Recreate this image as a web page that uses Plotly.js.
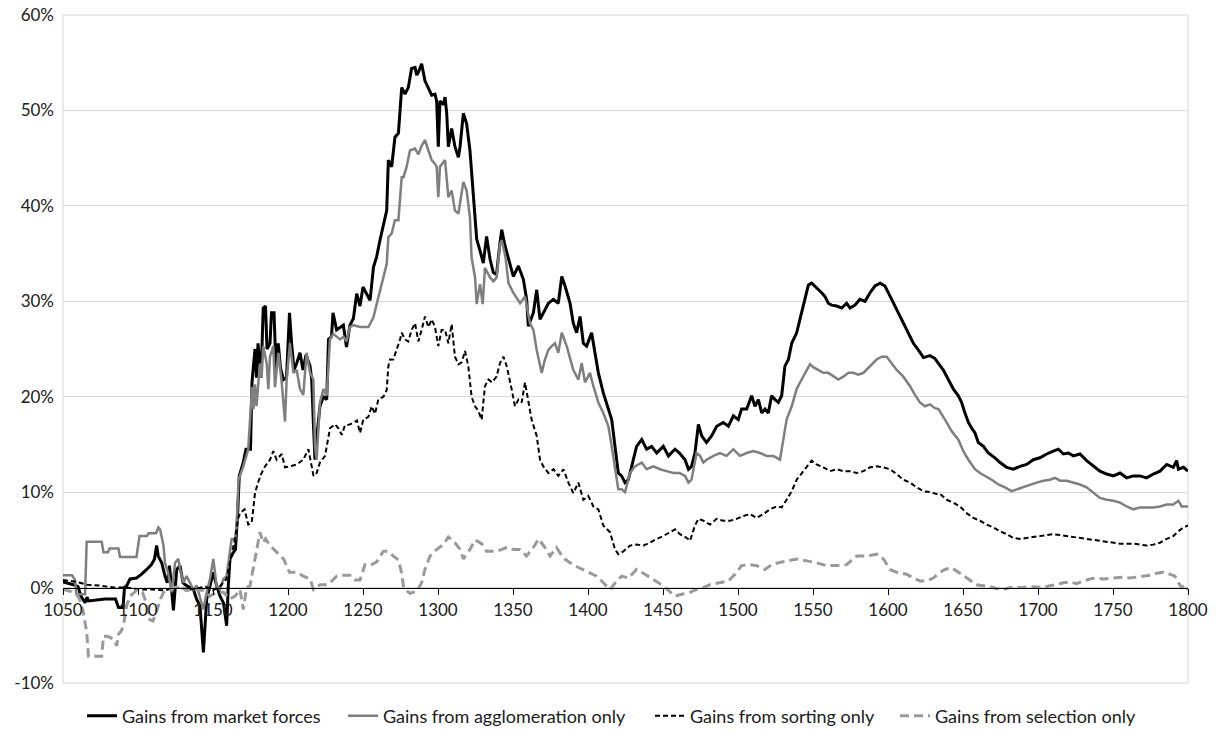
<!DOCTYPE html>
<html>
<head>
<meta charset="utf-8">
<script src="https://cdn.plot.ly/plotly-3.0.1.min.js"></script>
<style>html,body{margin:0;padding:0;background:#fff;}#chart{width:1218px;height:731px;}</style>
</head>
<body>
<div id="chart"></div>
<script>
// Series names
const seriesNames = ["Gains from market forces", "Gains from agglomeration only", "Gains from sorting only", "Gains from selection only"];

// [year, percent] readings for each series
const marketData = [[1050,0.6],[1053,0.5],[1057,0.3],[1060,0.1],[1062,-0.9],[1064.7,-1.6],[1066,-1.0],[1067,-1.4],[1078,-1.2],[1085,-1.2],[1087,-2.1],[1090,-2.1],[1091,0],[1092.5,0.2],[1094.7,0.9],[1099,1.0],[1102.4,1.4],[1105.8,1.9],[1109,2.4],[1111,3.0],[1112.4,4.4],[1113.5,3.3],[1115.8,2.6],[1118,1.2],[1119.5,0.5],[1121,2.3],[1123.6,-2.4],[1125.8,1.9],[1128,2.3],[1130,0.5],[1132.4,0.2],[1137,-0.2],[1139,-1.2],[1141.3,-1.9],[1143.6,-6.8],[1145.8,-1.2],[1148,0.2],[1150.2,1.6],[1152.4,0.2],[1154.7,-0.9],[1157,-1.6],[1159.1,-4.0],[1160.2,0.2],[1161.3,3.0],[1163.6,3.7],[1165,4.0],[1166.5,8.0],[1167.5,11.7],[1170,13.0],[1172,14.5],[1175,14.5],[1176,21.5],[1178,25.0],[1179,22.0],[1180,25.6],[1182,22.0],[1183.5,29.3],[1185,29.5],[1186,25.0],[1188,25.6],[1189,28.8],[1190.7,28.8],[1192,22.8],[1193.5,25.6],[1195,23.0],[1197,21.8],[1199,22.0],[1201,28.8],[1202.4,25.6],[1204,22.8],[1205.8,23.5],[1208,24.6],[1210,22.8],[1212,24.4],[1214.7,23.2],[1215.8,21.8],[1217,16.9],[1218,13.4],[1219,15.5],[1221.3,19.0],[1223.6,20.0],[1225.8,19.7],[1227,26.0],[1229,26.3],[1230,28.8],[1232.4,27.0],[1236.9,27.5],[1239,25.2],[1241.3,27.5],[1243.6,28.2],[1245.8,30.8],[1248,29.5],[1250,31.5],[1253.6,30.5],[1254.7,30.1],[1257,33.6],[1259,34.6],[1261.3,36.4],[1263.6,38.1],[1265.8,39.5],[1266.9,44.8],[1269.1,44.1],[1271.3,47.2],[1273.6,47.6],[1275.8,52.4],[1278,51.7],[1280.2,52.4],[1282.4,54.4],[1284.7,54.5],[1285.8,53.7],[1286.9,54.0],[1289.1,54.9],[1291.3,53.1],[1293.6,52.4],[1295.8,51.6],[1298,51.7],[1299.1,51.0],[1300.2,46.2],[1301.3,51.0],[1303.6,50.6],[1304.7,51.4],[1305.8,49.7],[1306.9,46.2],[1309.1,48.1],[1311.3,46.2],[1313.6,45.1],[1314.7,46.2],[1316.9,49.7],[1319.1,48.6],[1321.3,45.8],[1323.6,40.9],[1325.8,36.5],[1328,35.3],[1330.2,34.0],[1332.4,36.8],[1334.7,34.4],[1336.9,33.0],[1339,32.8],[1341.3,36.1],[1342.5,37.5],[1344.7,35.8],[1346.9,34.4],[1350.2,32.6],[1353.6,33.7],[1356.9,32.3],[1359.1,30.2],[1360.2,27.4],[1363.6,28.8],[1365.8,31.2],[1368,28.1],[1371.3,29.1],[1373.6,29.8],[1376.9,30.2],[1380.2,29.8],[1382.5,32.6],[1384.7,31.6],[1388,29.8],[1390.2,27.7],[1392.4,26.7],[1394.7,28.4],[1396.9,25.6],[1399.1,25.3],[1402.4,26.7],[1404.7,24.6],[1406.9,22.5],[1410.2,20.4],[1413.6,18.7],[1415.8,17.6],[1418,14.8],[1420.2,12.0],[1422.4,11.7],[1424.7,11.0],[1426.9,11.3],[1430.2,13.4],[1432.4,14.8],[1435.8,15.5],[1439.1,14.5],[1442.4,14.8],[1445.8,14.1],[1450.2,14.8],[1453.6,13.8],[1458,14.5],[1461,14.1],[1464.7,13.4],[1467,12.4],[1469,12.7],[1471.3,14.1],[1473.6,17.1],[1475.8,15.9],[1479,15.2],[1482.4,15.9],[1485.8,16.9],[1490.2,17.3],[1493.6,16.9],[1496.9,18.0],[1500.2,17.6],[1502.4,18.7],[1505.8,18.7],[1509.1,20.1],[1511.3,19.0],[1513.6,19.7],[1515.8,18.3],[1518,18.7],[1520.2,18.3],[1522.4,20.1],[1524.7,19.7],[1526.9,19.4],[1529.1,20.1],[1531.3,23.2],[1533.6,23.9],[1535.8,25.6],[1539.1,26.7],[1541.3,28.1],[1543.6,29.5],[1545.8,30.9],[1546.9,31.7],[1549.1,31.9],[1551.3,31.6],[1553.6,31.2],[1555.8,30.9],[1558,30.5],[1560.2,29.8],[1562.4,29.6],[1565.8,29.5],[1569.1,29.3],[1572.4,29.8],[1574.7,29.3],[1578,29.6],[1581.3,30.2],[1584.7,30.0],[1588,30.9],[1591.3,31.6],[1594.7,31.9],[1598,31.6],[1600.2,30.9],[1603.6,29.8],[1607,28.8],[1610.2,27.7],[1613.6,26.7],[1616.9,25.6],[1620.2,24.9],[1623.6,24.1],[1628,24.3],[1631.3,24.0],[1633.6,23.5],[1636.9,22.8],[1640.2,21.8],[1643.6,20.8],[1646.9,20.1],[1649.1,19.4],[1651.3,18.3],[1653.6,17.3],[1655.8,16.7],[1658,16.2],[1660.2,15.2],[1663.6,14.8],[1666.9,14.1],[1671.3,13.6],[1674.7,13.1],[1679.1,12.6],[1683.6,12.4],[1688,12.7],[1692.4,12.9],[1696.9,13.4],[1701.3,13.6],[1705.8,14.0],[1710.2,14.3],[1713.6,14.5],[1716.9,14.0],[1720.2,14.1],[1723.6,13.8],[1728,14.0],[1732.4,13.3],[1736.9,12.7],[1741.3,12.2],[1745.8,11.9],[1750.2,11.7],[1754.7,12.0],[1759.1,11.5],[1763.6,11.7],[1768,11.7],[1772.4,11.5],[1776.9,11.9],[1781.3,12.2],[1785.8,12.9],[1790.2,12.6],[1792.4,13.3],[1793.6,12.4],[1797,12.6],[1800,12.2]];

const agglomerationData = [[1050,1.3],[1056,1.3],[1058,0.8],[1059,-0.7],[1064.7,-0.7],[1065.8,4.8],[1075.8,4.8],[1077,3.7],[1080,3.7],[1081,4.1],[1087,4.1],[1088,3.2],[1099,3.2],[1100,4.2],[1101,5.4],[1106,5.4],[1107,5.7],[1112,5.7],[1113.6,6.3],[1114.7,6.1],[1117,4.4],[1118,2.6],[1120,1.6],[1122.4,-0.5],[1124.7,2.6],[1126.9,3.0],[1128,2.0],[1130.2,0.5],[1132.4,1.2],[1134.7,0.5],[1136.9,-0.2],[1139.1,0.2],[1141.3,-0.9],[1143.6,-2.3],[1145.8,-0.5],[1148,0.9],[1150.2,3.0],[1152.4,0.2],[1154.7,-0.2],[1157,0.9],[1159.1,1.2],[1161.3,3.7],[1162.4,5.1],[1164.7,5.1],[1165.8,6.5],[1167,11.3],[1170.2,12.7],[1173.5,14.5],[1176,21.0],[1177,18.7],[1178,21.3],[1179,19.0],[1181.3,23.5],[1182.4,22.0],[1183.5,25.3],[1185.8,23.5],[1186.9,20.8],[1188,24.2],[1190.2,25.3],[1191.3,21.0],[1193.6,24.6],[1195.8,21.5],[1198,17.4],[1199.1,21.8],[1201.3,25.6],[1203.6,22.5],[1205.8,22.8],[1208,20.8],[1210.2,20.2],[1212.4,24.6],[1214.7,22.5],[1216.9,21.8],[1218,14.8],[1219.1,13.4],[1221.3,19.4],[1223.6,20.8],[1225.8,20.1],[1228,26.0],[1230.2,26.6],[1232.4,26.3],[1234.7,26.0],[1237,26.3],[1239,25.8],[1241.3,27.3],[1243.6,27.5],[1248,27.3],[1250,27.3],[1253.6,27.3],[1256.9,28.3],[1259.1,29.7],[1263.6,32.5],[1265.8,33.9],[1266.9,36.7],[1269.1,37.1],[1271.3,38.5],[1273.6,38.5],[1275.8,43.0],[1277,43.0],[1279.1,44.1],[1281.3,45.8],[1284.7,46.0],[1286.9,45.4],[1289.1,46.3],[1291.3,46.9],[1293.6,45.8],[1295.8,44.8],[1298,44.4],[1299.1,44.1],[1300.2,40.9],[1301.3,44.1],[1304.7,44.8],[1306.9,40.9],[1309.1,41.6],[1311.3,39.5],[1313.6,39.2],[1315.8,41.3],[1316.9,42.5],[1319.1,41.6],[1321.3,38.8],[1322.4,34.6],[1324.7,32.5],[1325.8,29.7],[1328,31.8],[1329.8,29.7],[1331.3,33.5],[1334.7,32.5],[1336.9,32.1],[1339.1,32.5],[1341.3,36.0],[1342.5,36.4],[1345,34.6],[1347,31.9],[1350.2,30.9],[1354.7,29.8],[1358,30.5],[1361.3,27.7],[1363.6,27.0],[1365.8,24.9],[1369.1,22.5],[1371.3,23.9],[1373.6,24.9],[1375.8,25.3],[1378,25.6],[1380.2,24.6],[1382.5,26.7],[1385.8,25.3],[1388,23.9],[1390.2,22.8],[1393.6,21.8],[1395.8,23.5],[1398,21.5],[1401.3,22.5],[1403.6,21.1],[1406.9,19.4],[1410.2,18.3],[1413.6,16.9],[1415.8,14.8],[1418,12.7],[1420.2,10.3],[1422.4,10.3],[1424.7,10.0],[1428,12.0],[1431.3,12.7],[1435.8,13.1],[1439.1,12.4],[1443.6,12.7],[1448,12.4],[1452.4,12.2],[1457,12.0],[1461,12.0],[1464.7,11.7],[1467,11.0],[1469,11.3],[1472.4,14.1],[1474.7,13.8],[1476.9,13.1],[1479.1,13.4],[1483.6,13.8],[1488,14.1],[1492.4,13.8],[1496.9,14.5],[1501.3,13.8],[1505.8,14.1],[1510.2,14.3],[1514.7,14.1],[1519.1,13.8],[1523.6,13.8],[1528,13.4],[1530.2,15.5],[1532.4,17.6],[1535.8,19.0],[1539.1,20.8],[1542.4,21.8],[1545.8,22.8],[1548,23.4],[1550.2,23.1],[1553.6,22.8],[1556.9,22.5],[1560.2,22.5],[1563.6,22.1],[1566.9,21.8],[1570.2,22.1],[1573.6,22.5],[1576.9,22.5],[1580.2,22.3],[1583.6,22.5],[1588,23.2],[1592.4,23.9],[1595.8,24.2],[1599.1,24.2],[1602.4,23.5],[1605.8,22.8],[1610.2,22.1],[1614.7,21.1],[1618,20.2],[1621.3,19.4],[1624.7,19.0],[1628,19.2],[1631.3,18.8],[1633.6,18.7],[1638,17.6],[1642.4,16.4],[1646.9,15.5],[1650.2,14.3],[1653.6,13.4],[1658,12.4],[1661.3,12.0],[1664.7,11.7],[1669.1,11.3],[1673.6,10.8],[1678,10.5],[1682.4,10.1],[1685.8,10.3],[1690.2,10.5],[1694.7,10.8],[1699.1,11.0],[1703.6,11.2],[1708,11.3],[1711.3,11.5],[1714.7,11.2],[1719.1,11.2],[1723.6,11.0],[1728,10.8],[1732.4,10.5],[1736.9,9.9],[1741.3,9.4],[1745.8,9.2],[1750.2,9.1],[1754.7,8.9],[1759.1,8.5],[1763.6,8.2],[1768,8.4],[1772.4,8.4],[1776.9,8.4],[1781.3,8.5],[1785.8,8.7],[1790.2,8.7],[1793.6,9.1],[1795.8,8.5],[1800,8.5]];

const sortingData = [[1050,0.8],[1055,0.7],[1059,0.6],[1066,0.3],[1075,0.2],[1084,0.0],[1093,0.0],[1101,-0.2],[1110,-0.2],[1118,-0.3],[1125,0.0],[1135,-0.2],[1145,0.1],[1150,-0.3],[1155,0.2],[1159,0.9],[1161.3,2.6],[1163,3.8],[1165,5.4],[1166.7,7.2],[1168,7.8],[1171,8.2],[1173.5,6.6],[1175.8,6.8],[1178,9.9],[1180,11.0],[1182.4,12.0],[1184.7,12.7],[1188,13.4],[1190.2,14.3],[1192.4,13.4],[1195.8,14.0],[1198,12.6],[1201.3,12.7],[1205.8,12.9],[1210.2,13.4],[1213.6,14.5],[1217,11.7],[1219.1,12.0],[1221.3,13.1],[1224.7,13.8],[1228,16.7],[1231.3,17.1],[1233.6,16.7],[1235.8,16.0],[1238,17.0],[1241.3,17.1],[1243.6,17.3],[1246,17.5],[1248,16.2],[1250.2,17.6],[1253.6,17.9],[1255.8,19.0],[1258,18.2],[1260.2,19.7],[1263.6,20.0],[1265.8,20.7],[1266.9,23.2],[1268,23.9],[1270.2,23.9],[1272.4,24.9],[1274.7,26.0],[1275.8,26.7],[1278,26.0],[1280.2,25.8],[1282.4,27.0],[1284.7,27.7],[1286.9,25.8],[1289.1,27.0],[1291.3,28.4],[1293.6,27.3],[1295.8,28.1],[1298,27.3],[1300.2,25.3],[1302.4,27.0],[1304.7,27.0],[1306.9,25.6],[1309.1,27.6],[1311.3,24.2],[1313.6,23.4],[1315.8,23.6],[1318,24.8],[1320.2,23.2],[1322.4,20.0],[1324.7,19.0],[1326.9,18.5],[1329.1,17.6],[1331.3,21.1],[1333.6,21.8],[1336,21.5],[1339,22.1],[1341.3,23.5],[1343.6,24.2],[1345.8,23.2],[1349.1,20.8],[1351.3,19.0],[1353.6,19.7],[1355.8,19.4],[1358,21.5],[1360.2,19.7],[1362.4,17.6],[1365.8,15.9],[1368,13.4],[1370.2,12.7],[1373.6,12.0],[1377,12.4],[1380.2,11.7],[1383.6,12.4],[1386.9,11.0],[1390.2,9.9],[1393.6,11.0],[1396.9,9.2],[1400.2,9.6],[1403.6,8.5],[1406.9,8.2],[1410.2,6.5],[1414.7,5.8],[1418,4.0],[1420.2,3.5],[1423.6,3.8],[1428,4.4],[1432.4,4.5],[1436.9,4.4],[1441.3,4.7],[1445.8,5.1],[1450.2,5.4],[1454.7,5.8],[1458,6.1],[1461.3,5.6],[1465.8,5.2],[1468,4.9],[1471.3,6.5],[1473.6,7.2],[1477,7.0],[1481.3,6.6],[1485.8,7.2],[1490.2,7.0],[1494.7,7.0],[1499.1,7.2],[1503.6,7.5],[1508,7.7],[1512.4,7.3],[1516.9,7.7],[1521.3,8.2],[1525.8,8.5],[1529.1,8.4],[1532.4,9.2],[1535.8,10.1],[1539.1,11.3],[1542.4,12.0],[1545.8,12.7],[1549.1,13.3],[1552.4,12.9],[1556.9,12.6],[1561.3,12.2],[1565.8,12.4],[1570.2,12.2],[1574.7,12.2],[1579.1,12.0],[1583.6,12.2],[1588,12.6],[1592.4,12.7],[1596.9,12.6],[1601.3,12.4],[1605.8,11.9],[1610.2,11.3],[1614.7,11.0],[1619.1,10.5],[1623.6,10.1],[1628,10.0],[1632.4,9.8],[1634.7,9.8],[1639.1,9.2],[1643.6,8.9],[1648,8.5],[1652.4,7.8],[1656.9,7.3],[1661.3,7.0],[1665.8,6.6],[1670.2,6.3],[1674.7,5.9],[1679.1,5.6],[1683.6,5.2],[1688,5.1],[1692.4,5.2],[1696.9,5.3],[1701.3,5.4],[1705.8,5.5],[1710.2,5.6],[1714.7,5.5],[1719.1,5.4],[1723.6,5.3],[1728,5.2],[1732.4,5.1],[1736.9,5.0],[1741.3,4.9],[1745.8,4.8],[1750.2,4.7],[1754.7,4.6],[1759.1,4.6],[1763.6,4.6],[1768,4.5],[1772.4,4.4],[1776.9,4.5],[1781.3,4.7],[1785.8,5.1],[1790.2,5.4],[1793.6,5.9],[1797,6.3],[1800,6.5]];

const selectionData = [[1050,-0.2],[1055,-0.4],[1059,-0.7],[1061,-1.2],[1063.6,-2.6],[1065.8,-4.7],[1067,-7.2],[1075.8,-7.2],[1077,-5.1],[1079,-5.1],[1081.3,-5.2],[1083.6,-5.4],[1085.8,-6.1],[1087,-4.9],[1089,-4.5],[1090.2,-4.0],[1091.3,-3.0],[1092.4,-1.9],[1094.7,-0.9],[1099,-0.3],[1103,-0.5],[1106,-1.8],[1107,-3.3],[1110,-3.5],[1113,-2.2],[1115,-1.2],[1117,-0.5],[1121,-0.2],[1128,0.2],[1132,-0.3],[1137,-0.2],[1143.6,-0.3],[1148,-0.9],[1152,-0.5],[1157,-0.5],[1161.3,-1.2],[1164.7,-0.9],[1168,-0.2],[1170.2,-2.3],[1172.4,0.0],[1174.7,0.2],[1177,2.3],[1179.1,4.0],[1181.3,5.8],[1183.5,4.7],[1185,5.1],[1188,4.4],[1192.4,3.7],[1197,3.0],[1201,1.6],[1205.8,1.6],[1210.2,1.2],[1214.7,0.9],[1217,-0.2],[1221.3,0.3],[1225.8,0.3],[1228,0.5],[1232.4,1.2],[1236.9,1.3],[1241.3,1.3],[1244.7,0.8],[1248,0.8],[1251.3,2.4],[1254.7,2.3],[1259.1,2.7],[1263.6,3.8],[1266.9,3.8],[1270.2,3.3],[1273.6,2.9],[1275.8,1.5],[1277,0.1],[1278,-0.2],[1281.3,-0.6],[1285.8,-0.4],[1289.1,0.5],[1291.3,1.9],[1294.7,3.3],[1299.1,4.0],[1303.6,4.5],[1306.9,5.3],[1311.3,4.7],[1314.7,4.0],[1316.9,3.0],[1321.3,4.0],[1324.7,5.0],[1329.1,4.6],[1332.4,3.8],[1336,3.8],[1339,3.8],[1345.8,4.2],[1350.2,4.0],[1354.7,4.0],[1359,3.3],[1363.6,4.2],[1367,5.1],[1371.3,4.2],[1374.7,3.3],[1379,4.2],[1383.6,3.1],[1388,2.6],[1393.6,2.1],[1399.1,1.7],[1405.8,1.2],[1410.2,0.5],[1414.7,-0.2],[1419.1,0.7],[1422.4,1.2],[1427,1.0],[1432.4,1.9],[1438,1.4],[1444.7,0.7],[1449,0.3],[1453.6,-0.3],[1458,-0.9],[1462.4,-0.7],[1468,-0.5],[1472.4,-0.2],[1476.9,0.0],[1481.3,0.3],[1488,0.5],[1493.6,0.7],[1498,1.4],[1502.4,2.3],[1508,2.4],[1512.4,2.3],[1518,1.9],[1522.4,2.4],[1526.9,2.6],[1532.4,2.8],[1539,3.0],[1545.8,2.8],[1552.4,2.6],[1559,2.3],[1565.8,2.3],[1572.4,2.4],[1579.1,3.3],[1585.8,3.3],[1592.4,3.5],[1597,3.0],[1601.3,1.9],[1605.8,1.6],[1612.4,1.4],[1616.9,1.0],[1621.3,0.7],[1625.8,0.7],[1630.2,1.0],[1634.7,1.6],[1638,1.9],[1642.4,2.1],[1646,1.7],[1650.2,1.2],[1654.7,0.7],[1659.1,0.3],[1663.6,0.2],[1668,0.1],[1672.4,-0.1],[1676.9,-0.2],[1681.3,0.0],[1690,0.0],[1694.7,0.1],[1703.6,0.0],[1708,0.2],[1712.4,0.3],[1716.9,0.5],[1721.3,0.6],[1725.8,0.4],[1730.2,0.7],[1734.7,0.9],[1739.1,1.0],[1743.6,0.9],[1748,0.95],[1752.4,1.0],[1756.9,1.1],[1761.3,1.0],[1765.8,1.1],[1770.2,1.2],[1774.7,1.3],[1779.1,1.5],[1783.6,1.6],[1788,1.4],[1791.3,1.2],[1793.6,0.5],[1795.8,0.0],[1798,0.3],[1800,-0.2]];

// Axis ticks
const xTickVals = [1050,1100,1150,1200,1250,1300,1350,1400,1450,1500,1550,1600,1650,1700,1750,1800];
const yTickVals = [-10,0,10,20,30,40,50,60];
const yTickText = ["-10%","0%","10%","20%","30%","40%","50%","60%"];

const legendIds = ['legend', 'legend2', 'legend3', 'legend4'];
const legendLeft = [82, 343, 650, 895];

function mk(data, name, color, width, dash, leg) {
  return {
    x: data.map(d => d[0]), y: data.map(d => d[1]),
    type: 'scatter', mode: 'lines', name: name, legend: leg,
    line: {color: color, width: width, dash: dash, shape: 'linear'},
    hoverinfo: 'x+y+name'
  };
}

const traces = [
  mk(marketData, seriesNames[0], '#000000', 3, 'solid', legendIds[0]),
  mk(agglomerationData, seriesNames[1], '#7f7f7f', 2.5, 'solid', legendIds[1]),
  mk(sortingData, seriesNames[2], '#000000', 2, '5px,3px', legendIds[2]),
  mk(selectionData, seriesNames[3], '#9a9a9a', 3, '9px,5px', legendIds[3])
];

const textColor = '#404040';
const fontFam = 'Lato, Roboto, "Liberation Sans", sans-serif';

function legendAt(px) {
  return {
    orientation: 'h', xref: 'container', yref: 'container',
    x: px / 1218, xanchor: 'left', y: (731 - 716) / 731, yanchor: 'middle',
    font: {size: 18, color: '#202020', family: fontFam}, itemwidth: 30,
    bgcolor: 'rgba(0,0,0,0)', borderwidth: 0
  };
}

const layout = {
  width: 1218, height: 731,
  margin: {l: 63, r: 30, t: 15, b: 48, autoexpand: false},
  paper_bgcolor: '#ffffff', plot_bgcolor: '#ffffff',
  font: {family: fontFam, size: 16, color: textColor},
  showlegend: true,
  xaxis: {
    range: [1050, 1800], tickmode: 'array', tickvals: xTickVals,
    showgrid: false, zeroline: false,
    anchor: 'free', position: 1/7,
    showline: true, linecolor: '#000000', linewidth: 1,
    ticks: 'outside', ticklen: 6, tickcolor: '#000000', tickwidth: 1,
    ticklabelstandoff: 1,
    tickfont: {size: 17, color: '#202020'}
  },
  yaxis: {
    range: [-10, 60], tickmode: 'array', tickvals: yTickVals, ticktext: yTickText,
    showgrid: true, gridcolor: '#d9d9d9', gridwidth: 1,
    zeroline: false, showline: false, ticks: '',
    ticklabelstandoff: 8,
    tickfont: {size: 17, color: '#202020'}
  },
  legend: legendAt(legendLeft[0]),
  legend2: legendAt(legendLeft[1]),
  legend3: legendAt(legendLeft[2]),
  legend4: legendAt(legendLeft[3]),
  shapes: [{
    type: 'rect', xref: 'paper', yref: 'paper', x0: 0, x1: 1, y0: 0, y1: 1,
    line: {color: '#d9d9d9', width: 1}, layer: 'below'
  }]
};

Plotly.newPlot('chart', traces, layout, {displayModeBar: false, staticPlot: true});
</script>
</body>
</html>
